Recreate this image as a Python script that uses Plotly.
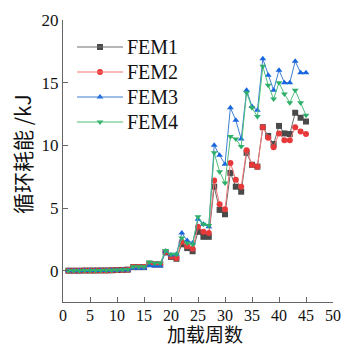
import plotly.graph_objects as go

cycles = list(range(1, 46))

fem1 = [0.0, 0.0, 0.0, 0.01, 0.01, 0.01, 0.02, 0.02, 0.03, 0.05, 0.06, 0.08,
        0.28, 0.28, 0.28, 0.55, 0.5, 0.5, 1.45, 1.1, 0.95, 2.1, 1.8, 1.55,
        3.1, 2.7, 2.7, 6.7, 4.85, 4.5, 7.8, 6.7, 6.3, 9.4, 8.45, 8.3,
        11.45, 10.75, 10.1, 11.55, 10.95, 10.9, 12.6, 12.2, 11.9]
fem2 = [0.0, 0.0, 0.0, 0.01, 0.01, 0.01, 0.02, 0.02, 0.03, 0.05, 0.06, 0.08,
        0.3, 0.3, 0.3, 0.55, 0.5, 0.5, 1.5, 1.15, 1.0, 2.3, 1.95, 1.75,
        3.5, 3.1, 3.0, 7.2, 5.3, 4.9, 8.6, 7.25, 6.7, 9.6, 8.45, 8.3,
        11.45, 10.6, 9.85, 10.95, 10.4, 10.4, 11.45, 11.1, 10.9]
fem3 = [0.0, 0.0, 0.0, 0.01, 0.01, 0.01, 0.02, 0.02, 0.03, 0.04, 0.05, 0.06,
        0.2, 0.2, 0.2, 0.4, 0.38, 0.38, 1.55, 1.25, 1.3, 3.0, 2.4, 2.2,
        4.1, 3.7, 3.5, 10.0, 9.2, 8.5, 13.0, 12.0, 10.5, 14.4, 13.1, 12.8,
        16.9, 15.6, 14.4, 16.0, 15.0, 15.0, 16.7, 15.8, 15.8]
fem4 = [0.0, 0.0, 0.0, 0.01, 0.01, 0.01, 0.02, 0.03, 0.04, 0.06, 0.08, 0.1,
        0.32, 0.32, 0.32, 0.7, 0.6, 0.6, 1.6, 1.3, 1.3, 2.6, 2.2, 2.1,
        4.3, 3.7, 3.6, 9.4, 7.9, 7.0, 10.7, 10.5, 9.9, 14.2, 13.0, 12.3,
        16.3, 14.8, 13.7, 15.0, 14.1, 13.4, 14.4, 13.4, 12.4]

series_names = ["FEM1", "FEM2", "FEM3", "FEM4"]
x_ticks = [0, 5, 10, 15, 20, 25, 30, 35, 40, 45, 50]
y_ticks = [0, 5, 10, 15, 20]
x_title = "加载周数"
y_title = "循环耗能 /kJ"

line_colors = ["#6e6e6e", "#f27474", "#3f7fd0", "#4cbf7c"]
marker_colors = ["#4a4a4a", "#e8393a", "#1766e0", "#2fb06a"]
symbols = ["square", "circle", "triangle-up", "triangle-down"]

W, H = 346, 349
ML, MR, MT, MB = 63, 13, 20, 47
PW, PH = W - ML - MR, H - MT - MB

def px_to_paper(px, py):
    return (px - ML) / PW, (H - MB - py) / PH

serif = "Liberation Serif, Times New Roman, Noto Sans CJK SC, serif"
cjk = "Noto Sans CJK SC"

fig = go.Figure()
for name, vals, lc, mc, sym in zip(series_names, [fem1, fem2, fem3, fem4],
                                   line_colors, marker_colors, symbols):
    fig.add_trace(go.Scatter(
        x=cycles, y=vals, name=name, mode="lines+markers",
        line=dict(color=lc, width=1),
        marker=dict(symbol=sym, size=6, color=mc, line=dict(width=0)),
        showlegend=False,
    ))

# manual legend (line + marker + text) on an overlay axis spanning the plot area
leg_rows = [47, 72, 97, 122]
shapes = []
annotations = []
for i, name in enumerate(series_names):
    x0, y0 = px_to_paper(77, leg_rows[i])
    x1, _ = px_to_paper(123, leg_rows[i])
    xm, _ = px_to_paper(100, leg_rows[i])
    shapes.append(dict(type="line", xref="paper", yref="paper", x0=x0, x1=x1,
                       y0=y0, y1=y0, line=dict(color=line_colors[i], width=1)))
    fig.add_trace(go.Scatter(
        x=[xm], y=[y0], xaxis="x2", yaxis="y2", mode="markers",
        marker=dict(symbol=symbols[i], size=6, color=marker_colors[i], line=dict(width=0)),
        showlegend=False, hoverinfo="skip"))
    tx, _ = px_to_paper(125, leg_rows[i])
    annotations.append(dict(x=tx, y=y0, xref="paper", yref="paper", text=name,
                            showarrow=False, xanchor="left", yanchor="middle",
                            font=dict(family=serif, size=20, color="#111")))

# axis titles as annotations
xtx, xty = px_to_paper(205, 349)
annotations.append(dict(x=xtx, y=xty, xref="paper", yref="paper", text=x_title,
                        showarrow=False, xanchor="center", yanchor="bottom",
                        font=dict(family=cjk, size=19, color="#111")))
ytx, yty = px_to_paper(22, 154)
annotations.append(dict(x=ytx, y=yty, xref="paper", yref="paper", text=y_title,
                        showarrow=False, xanchor="center", yanchor="middle", textangle=-90,
                        font=dict(family=cjk, size=21, color="#111")))

fig.update_layout(
    width=W, height=H,
    margin=dict(l=ML, r=MR, t=MT, b=MB, autoexpand=False),
    paper_bgcolor="white", plot_bgcolor="white",
    font=dict(family=serif, size=16, color="#111"),
    showlegend=False,
    shapes=shapes, annotations=annotations,
    xaxis=dict(range=[0, 50], tickvals=x_ticks, ticks="inside", ticklen=5,
               tickcolor="#666", showline=True, linecolor="#666", linewidth=1,
               showgrid=False, zeroline=False, automargin=False,
               ticklabelstandoff=-1,
               tickfont=dict(size=16)),
    yaxis=dict(range=[-2.5, 20], tickvals=y_ticks, ticks="inside", ticklen=5,
               tickcolor="#666", showline=True, linecolor="#666", linewidth=1,
               showgrid=False, zeroline=False, automargin=False,
               tickfont=dict(size=17)),
    xaxis2=dict(overlaying="x", range=[0, 1], visible=False, fixedrange=True),
    yaxis2=dict(overlaying="y", range=[0, 1], visible=False, fixedrange=True),
)

fig.write_html("out.html")
